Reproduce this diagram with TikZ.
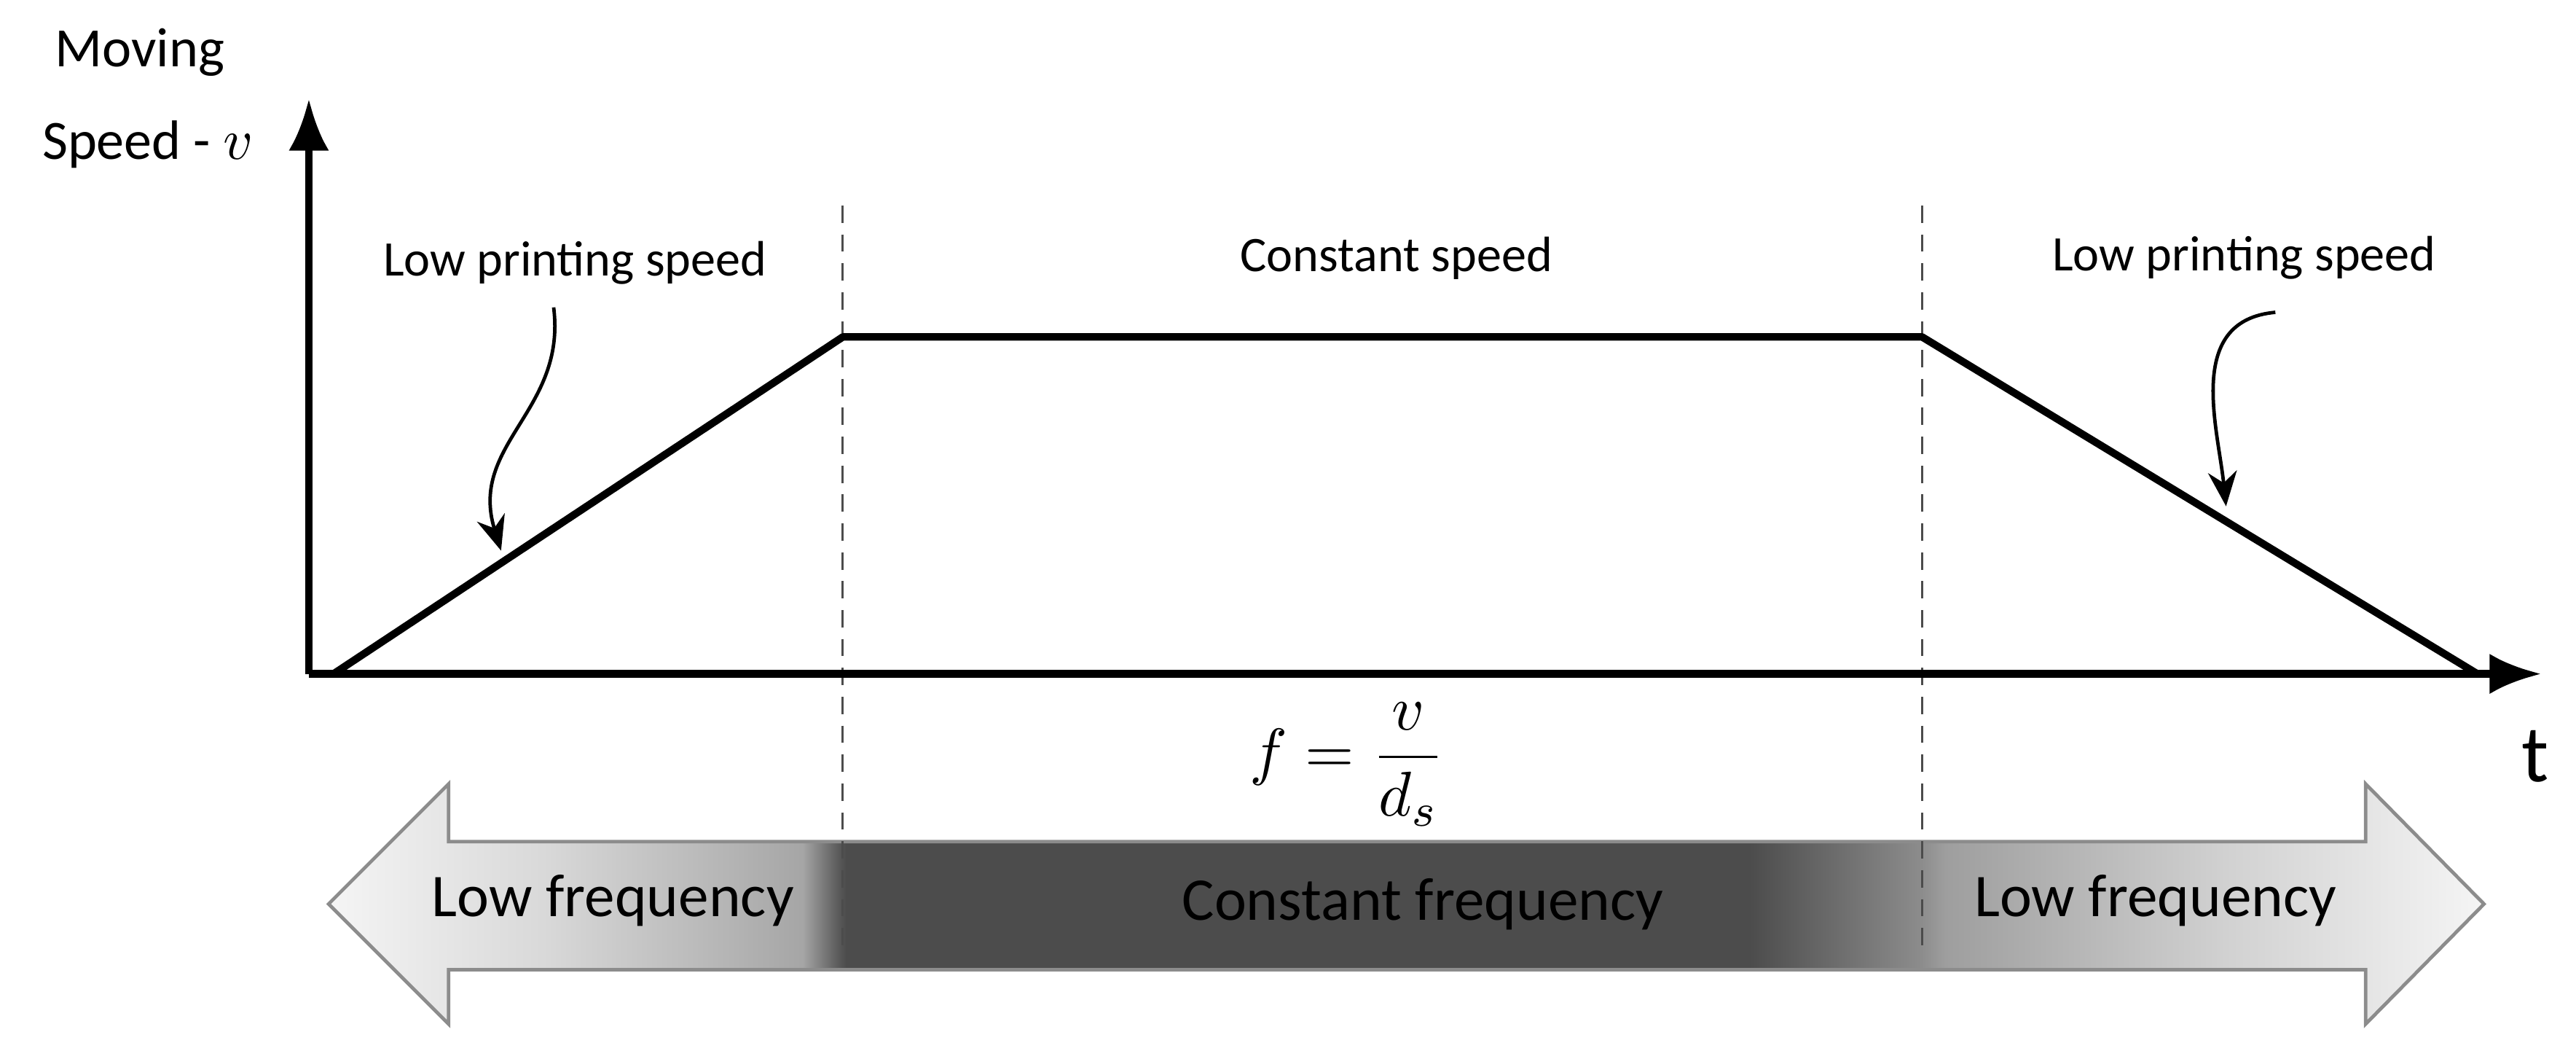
\documentclass[tikz,border=0pt]{standalone}
\usepackage{fontspec}
\setmainfont{Carlito}
\usepackage{amsmath}
\usetikzlibrary{arrows.meta}
\pgfdeclarehorizontalshading{freq}{100bp}{color(0bp)=(black!4); color(25bp)=(black!4); color(30bp)=(black!15); color(36bp)=(black!35); color(36.75bp)=(black!62); color(37bp)=(black!70); color(58bp)=(black!70); color(61.95bp)=(black!45); color(62.5bp)=(black!38); color(69bp)=(black!18); color(75bp)=(black!4); color(100bp)=(black!4)}
\begin{document}
\begin{tikzpicture}[x=0.01cm,y=-0.01cm,
  ax/.style={line width=1.3pt,-{Latex[length=9pt,width=7pt]}},
  lbl/.style={font=\fontsize{8.6}{10}\selectfont,inner sep=0},
  big/.style={font=\fontsize{10.5}{12}\selectfont,inner sep=0},
  sep/.style={densely dashed,line width=0.4pt,black!70}]
\useasboundingbox (0,0) rectangle (1568,644);
% arrow band
\path[shading=freq,draw=black!45,line width=0.6pt]
  (200,550) -- (273,477) -- (273,512) -- (1440,512) -- (1440,477) -- (1512,550)
  -- (1440,623) -- (1440,590) -- (273,590) -- (273,623) -- cycle;
\node[big] (lf1) at (373,548) {Low frequency};
\node[big] (cf) at (866,550) {Constant frequency};
\node[big] (lf2) at (1312,548) {Low frequency};
% dashed lines
\coordinate (d1t) at (513,125); \coordinate (d1b) at (513,580);
\coordinate (d2t) at (1170,125); \coordinate (d2b) at (1170,580);
\draw[sep] (d1t) -- (d1b);
\draw[sep] (d2t) -- (d2b);
% axes
\coordinate (o) at (188,410);
\coordinate (ytop) at (188,60);
\coordinate (xend) at (1547,410);
\draw[ax] (o) -- (ytop);
\draw[ax] (o) -- (xend);
% trapezoid
\coordinate (p1) at (203,410);
\coordinate (p2) at (513,205);
\coordinate (p3) at (1170,205);
\coordinate (p4) at (1508,410);
\draw[line width=1.3pt,line join=round] (p1) -- (p2) -- (p3) -- (p4);
% labels
\node[lbl,font=\fontsize{9.6}{11}\selectfont] (mv) at (85,32) {Moving};
\node[lbl,font=\fontsize{9.6}{11}\selectfont] (sp) at (90,88) {Speed - $v$};
\node[lbl] (l1) at (350,160) {Low printing speed};
\node[lbl] (cs) at (850,157) {Constant speed};
\node[lbl] (l2) at (1366,157) {Low printing speed};
\node[lbl,font=\fontsize{14}{16}\selectfont] (t) at (1543,460) {t};
\node[lbl,font=\fontsize{11}{12}\selectfont] (f) at (820,465) {$f=\dfrac{v}{d_s}$};
% curved arrows
\coordinate (a1s) at (337,187);
\coordinate (a1e) at (305,335);
\coordinate (a2s) at (1385,190);
\coordinate (a2e) at (1355,308);
\draw[line width=0.6pt,-{Stealth[length=6pt,width=5pt]}] (a1s) .. controls (345,250) and (285,270) .. (a1e);
\draw[line width=0.6pt,-{Stealth[length=6pt,width=5pt]}] (a2s) .. controls (1330,195) and (1350,260) .. (a2e);
\end{tikzpicture}
\end{document}
